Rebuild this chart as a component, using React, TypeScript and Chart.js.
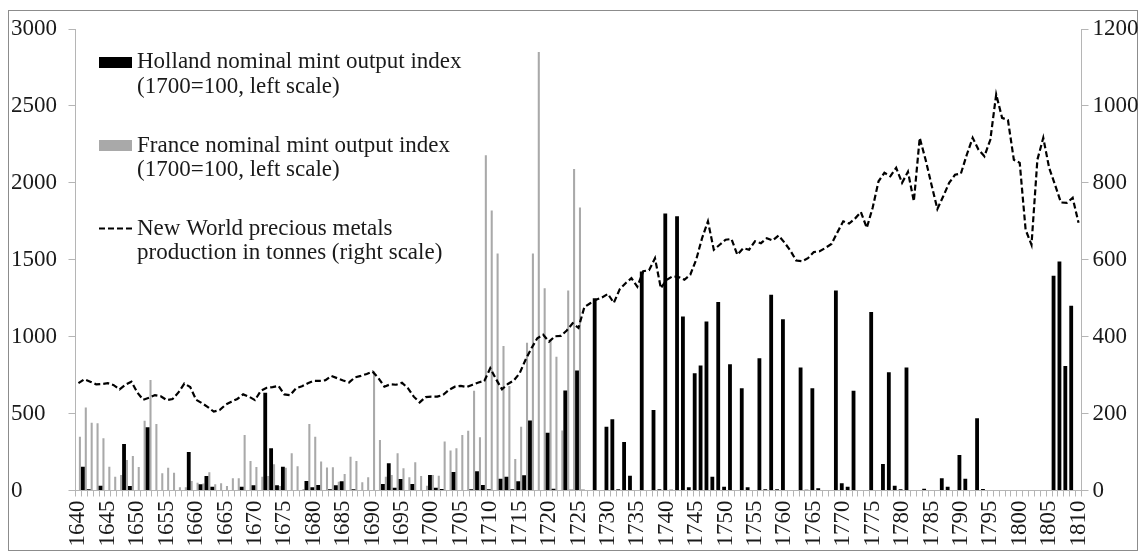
import React, { useEffect, useRef } from 'react';
import { Chart, registerables } from 'chart.js';

Chart.register(...registerables);

const years: string[] = [
  '1640','1641','1642','1643','1644','1645','1646','1647','1648','1649',
  '1650','1651','1652','1653','1654','1655','1656','1657','1658','1659',
  '1660','1661','1662','1663','1664','1665','1666','1667','1668','1669',
  '1670','1671','1672','1673','1674','1675','1676','1677','1678','1679',
  '1680','1681','1682','1683','1684','1685','1686','1687','1688','1689',
  '1690','1691','1692','1693','1694','1695','1696','1697','1698','1699',
  '1700','1701','1702','1703','1704','1705','1706','1707','1708','1709',
  '1710','1711','1712','1713','1714','1715','1716','1717','1718','1719',
  '1720','1721','1722','1723','1724','1725','1726','1727','1728','1729',
  '1730','1731','1732','1733','1734','1735','1736','1737','1738','1739',
  '1740','1741','1742','1743','1744','1745','1746','1747','1748','1749',
  '1750','1751','1752','1753','1754','1755','1756','1757','1758','1759',
  '1760','1761','1762','1763','1764','1765','1766','1767','1768','1769',
  '1770','1771','1772','1773','1774','1775','1776','1777','1778','1779',
  '1780','1781','1782','1783','1784','1785','1786','1787','1788','1789',
  '1790','1791','1792','1793','1794','1795','1796','1797','1798','1799',
  '1800','1801','1802','1803','1804','1805','1806','1807','1808','1809',
  '1810',
];

const tickYears: string[] = [
  '1640','1645','1650','1655','1660','1665','1670','1675','1680','1685',
  '1690','1695','1700','1705','1710','1715','1720','1725','1730','1735',
  '1740','1745','1750','1755','1760','1765','1770','1775','1780','1785',
  '1790','1795','1800','1805','1810',
];

const leftTicks: number[] = [0, 500, 1000, 1500, 2000, 2500, 3000];
const rightTicks: number[] = [0, 200, 400, 600, 800, 1000, 1200];

const holland: number[] = [
  0, 155, 8, 0, 31, 0, 0, 0, 303, 29,
  0, 0, 411, 0, 0, 0, 0, 0, 0, 251,
  0, 40, 94, 25, 0, 0, 0, 0, 25, 0,
  34, 0, 636, 275, 34, 155, 0, 0, 0, 62,
  21, 36, 0, 8, 34, 60, 0, 8, 0, 0,
  0, 0, 42, 177, 18, 75, 0, 42, 0, 0,
  100, 18, 10, 0, 120, 0, 0, 8, 125, 36,
  8, 0, 77, 90, 8, 60, 99, 455, 0, 0,
  375, 12, 0, 650, 5, 780, 5, 0, 1250, 0,
  415, 463, 8, 316, 96, 0, 1424, 0, 524, 8,
  1800, 5, 1782, 1131, 21, 763, 812, 1099, 90, 1225,
  25, 821, 0, 665, 21, 0, 860, 8, 1272, 8,
  1114, 0, 0, 799, 5, 665, 14, 0, 0, 1300,
  47, 25, 648, 0, 0, 1160, 0, 172, 769, 31,
  8, 799, 0, 0, 12, 0, 0, 79, 25, 0,
  231, 77, 0, 470, 10, 0, 0, 0, 0, 0,
  0, 0, 0, 0, 0, 0, 1396, 1489, 810, 1201,
  0,
];

const france: number[] = [
  350, 540, 440, 437, 340, 155, 90, 100, 198, 224,
  153, 454, 718, 433, 112, 148, 116, 21, 21, 62,
  51, 45, 118, 40, 47, 29, 79, 79, 361, 192,
  153, 90, 94, 170, 29, 148, 242, 157, 10, 433,
  350, 188, 150, 151, 57, 107, 220, 192, 53, 86,
  775, 329, 90, 101, 242, 144, 86, 183, 94, 31,
  100, 96, 318, 260, 274, 361, 389, 648, 346, 2180,
  1820, 1540, 940, 680, 205, 415, 960, 1540, 2850, 1315,
  980, 870, 390, 1300, 2090, 1840, 0, 0, 0, 0,
  0, 0, 0, 0, 0, 0, 0, 0, 0, 0,
  0, 0, 0, 0, 0, 0, 0, 0, 0, 0,
  0, 0, 0, 0, 0, 0, 0, 0, 0, 0,
  0, 0, 0, 0, 0, 0, 0, 0, 0, 0,
  0, 0, 0, 0, 0, 0, 0, 0, 0, 0,
  0, 0, 0, 0, 0, 0, 0, 0, 0, 0,
  0, 0, 0, 0, 0, 0, 0, 0, 0, 0,
  0, 0, 0, 0, 0, 0, 0, 0, 0, 0,
  0,
];

const newWorld: number[] = [
  279, 289, 283, 276, 277, 279, 274, 263, 275, 283,
  255, 236, 241, 248, 245, 235, 238, 255, 278, 269,
  236, 227, 217, 205, 209, 223, 231, 238, 250, 244,
  235, 259, 267, 269, 272, 250, 248, 266, 271, 279,
  285, 285, 287, 298, 292, 286, 281, 294, 298, 303,
  309, 292, 270, 276, 275, 280, 266, 244, 229, 243,
  244, 244, 249, 262, 270, 272, 269, 275, 281, 285,
  318, 289, 263, 277, 286, 305, 340, 370, 396, 405,
  387, 401, 402, 416, 435, 423, 477, 487, 496, 502,
  511, 488, 523, 539, 552, 530, 570, 573, 604, 526,
  548, 557, 555, 548, 561, 600, 656, 700, 626, 639,
  652, 654, 613, 630, 626, 648, 643, 656, 650, 663,
  645, 624, 598, 596, 604, 620, 622, 631, 641, 671,
  700, 694, 707, 724, 683, 735, 804, 826, 817, 839,
  800, 829, 752, 917, 860, 795, 732, 765, 800, 821,
  824, 873, 917, 886, 869, 912, 1030, 969, 963, 860,
  852, 678, 639, 860, 917, 839, 795, 749, 748, 761,
  696,
];

const legendHolland: string[] = ['Holland nominal mint output index', '(1700=100, left scale)'];
const legendFrance: string[] = ['France nominal mint output index', '(1700=100, left scale)'];
const legendNewWorld: string[] = ['New World precious metals', 'production in tonnes (right scale)'];

const SERIF = '"Liberation Serif", "Times New Roman", serif';
const AXIS_GRAY = '#b5b5b5';
const BAR_GRAY = '#a9a9a9';
const TEXT = '#1a1a1a';

const legendPlugin = {
  id: 'customLegend',
  afterDraw(chart: any) {
    const ctx = chart.ctx as CanvasRenderingContext2D;
    ctx.save();
    ctx.font = `23px ${SERIF}`;
    ctx.textAlign = 'left';
    ctx.textBaseline = 'alphabetic';
    const textX = 137;

    ctx.fillStyle = '#000';
    ctx.fillRect(99, 57, 33, 11);
    ctx.fillStyle = TEXT;
    ctx.fillText(legendHolland[0], textX, 68);
    ctx.fillText(legendHolland[1], textX, 92.5);

    ctx.fillStyle = BAR_GRAY;
    ctx.fillRect(99, 140, 33, 11);
    ctx.fillStyle = TEXT;
    ctx.fillText(legendFrance[0], textX, 151.5);
    ctx.fillText(legendFrance[1], textX, 176);

    ctx.strokeStyle = '#000';
    ctx.lineWidth = 2.2;
    ctx.setLineDash([6, 3]);
    ctx.beginPath();
    ctx.moveTo(99, 228.5);
    ctx.lineTo(134, 228.5);
    ctx.stroke();
    ctx.setLineDash([]);
    ctx.fillStyle = TEXT;
    ctx.fillText(legendNewWorld[0], textX, 234.5);
    ctx.fillText(legendNewWorld[1], textX, 259);
    ctx.restore();
  },
};

export default function App() {
  const ref = useRef<HTMLCanvasElement>(null);

  useEffect(() => {
    if (!ref.current) return;
    const chart = new Chart(ref.current, {
      type: 'bar',
      data: {
        labels: years,
        datasets: [
          {
            type: 'line',
            label: legendNewWorld.join(' '),
            data: newWorld,
            yAxisID: 'y1',
            borderColor: '#000',
            borderWidth: 2.2,
            borderDash: [6, 3],
            pointRadius: 0,
            fill: false,
            tension: 0,
            order: 0,
          } as any,
          {
            type: 'bar',
            label: legendHolland.join(' '),
            data: holland,
            yAxisID: 'y',
            backgroundColor: '#000',
            barPercentage: 1.3,
            categoryPercentage: 1,
            order: 1,
          },
          {
            type: 'bar',
            label: legendFrance.join(' '),
            data: france,
            yAxisID: 'y',
            backgroundColor: BAR_GRAY,
            barPercentage: 0.7,
            categoryPercentage: 1,
            order: 2,
          },
        ],
      },
      options: {
        responsive: false,
        animation: false,
        layout: { padding: { left: 11, top: 29, right: 0, bottom: 0 } },
        plugins: {
          legend: { display: false },
          tooltip: { enabled: false },
        },
        scales: {
          x: {
            offset: true,
            grid: {
              offset: true,
              drawOnChartArea: false,
              drawTicks: true,
              tickLength: 6,
              color: AXIS_GRAY,
            },
            border: { color: AXIS_GRAY, width: 1 },
            ticks: {
              autoSkip: false,
              maxRotation: 90,
              minRotation: 90,
              padding: 4,
              color: TEXT,
              font: { family: SERIF, size: 23 },
              callback: (_v: any, i: number) => (tickYears.includes(years[i]) ? years[i] : ''),
            },
            afterFit: (s: any) => {
              s.height = 68.5;
            },
          },
          y: {
            position: 'left',
            min: leftTicks[0],
            max: leftTicks[leftTicks.length - 1],
            grid: { drawOnChartArea: false, tickLength: 7, color: AXIS_GRAY },
            border: { color: AXIS_GRAY, width: 1 },
            afterBuildTicks: (s: any) => {
              s.ticks = leftTicks.map((v) => ({ value: v }));
            },
            ticks: {
              crossAlign: 'far',
              padding: 4,
              color: TEXT,
              font: { family: SERIF, size: 23 },
              callback: (v: any) => String(v),
            },
            afterFit: (s: any) => {
              s.width = 64.5;
            },
          },
          y1: {
            position: 'right',
            min: rightTicks[0],
            max: rightTicks[rightTicks.length - 1],
            grid: { drawOnChartArea: false, tickLength: 7, color: AXIS_GRAY },
            border: { color: AXIS_GRAY, width: 1 },
            afterBuildTicks: (s: any) => {
              s.ticks = rightTicks.map((v) => ({ value: v }));
            },
            ticks: {
              padding: 4,
              color: TEXT,
              font: { family: SERIF, size: 23 },
              callback: (v: any) => String(v),
            },
            afterFit: (s: any) => {
              s.width = 64.5;
            },
          },
        },
      },
      plugins: [legendPlugin],
    });
    return () => chart.destroy();
  }, []);

  return (
    <div style={{ position: 'absolute', left: 0, top: 0, width: 1146, height: 559, overflow: 'hidden' }}>
      <div
        style={{
          position: 'absolute',
          left: 8,
          top: 10,
          width: 1130,
          height: 541,
          border: '1px solid #8c8c8c',
          boxSizing: 'border-box',
        }}
      />
      <canvas ref={ref} width={1146} height={559} style={{ position: 'absolute', left: 0, top: 0 }} />
    </div>
  );
}
